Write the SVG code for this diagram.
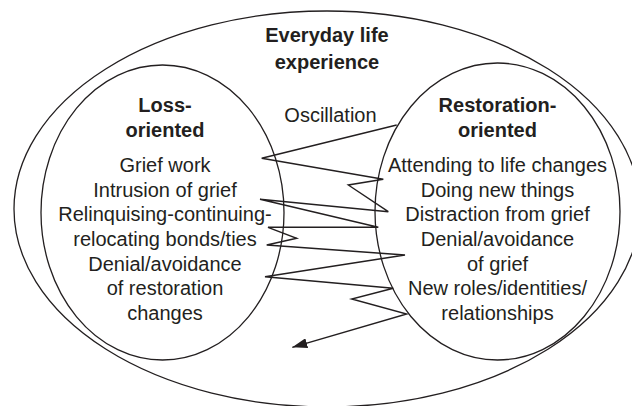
<svg xmlns="http://www.w3.org/2000/svg" width="632" height="406" viewBox="0 0 632 406">
<style>
.shape{fill:none;stroke:#231f20;stroke-width:1.3}
.t{font-family:"Liberation Sans",Arial,Helvetica,sans-serif;font-size:20px;fill:#231f20;text-anchor:middle}
.b{font-weight:bold}
.conn{fill:none;stroke:#231f20;stroke-width:1.4;stroke-linejoin:miter}
</style>
<defs>
<marker id="arrow" markerWidth="16" markerHeight="10" refX="15" refY="5" orient="auto" markerUnits="userSpaceOnUse">
<path d="M0,0 L15,5 L0,10 Z" fill="#231f20"/>
</marker>
</defs>
<rect width="632" height="406" fill="#ffffff"/>
<g id="everyday-life">
<ellipse class="shape" cx="327" cy="209" rx="313" ry="198"/>
<text class="t b" x="327" y="42">Everyday life</text>
<text class="t b" x="327" y="69">experience</text>
</g>
<g id="loss-oriented">
<ellipse class="shape" cx="162.5" cy="212.5" rx="121.5" ry="147.5"/>
<text class="t b" x="165" y="112">Loss-</text>
<text class="t b" x="165" y="137">oriented</text>
<text class="t" x="165" y="172">Grief work</text>
<text class="t" x="165" y="196.5">Intrusion of grief</text>
<text class="t" x="165" y="221">Relinquising-continuing-</text>
<text class="t" x="165" y="246">relocating bonds/ties</text>
<text class="t" x="165" y="270.5">Denial/avoidance</text>
<text class="t" x="165" y="295">of restoration</text>
<text class="t" x="165" y="320">changes</text>
</g>
<g id="restoration-oriented">
<ellipse class="shape" cx="497.5" cy="211.5" rx="122.5" ry="148.5"/>
<text class="t b" x="497.5" y="112">Restoration-</text>
<text class="t b" x="497.5" y="137">oriented</text>
<text class="t" x="497.5" y="172">Attending to life changes</text>
<text class="t" x="497.5" y="196.5">Doing new things</text>
<text class="t" x="497.5" y="221">Distraction from grief</text>
<text class="t" x="497.5" y="246">Denial/avoidance</text>
<text class="t" x="497.5" y="270.5">of grief</text>
<text class="t" x="497.5" y="295">New roles/identities/</text>
<text class="t" x="497.5" y="320">relationships</text>
</g>
<g id="connectors">
<text class="t" x="330.5" y="122">Oscillation</text>
<polyline class="conn" marker-end="url(#arrow)" points="396.7,125 261.7,158.3 383.3,179.3 348.3,185 388.3,211.7 260,199.3 378.3,227.3 268,227.3 296.7,238.3 266.7,245 405,255 265,276.7 393.3,288.3 351.7,299 406.7,314 292.3,347.3"/>
</g>
</svg>
